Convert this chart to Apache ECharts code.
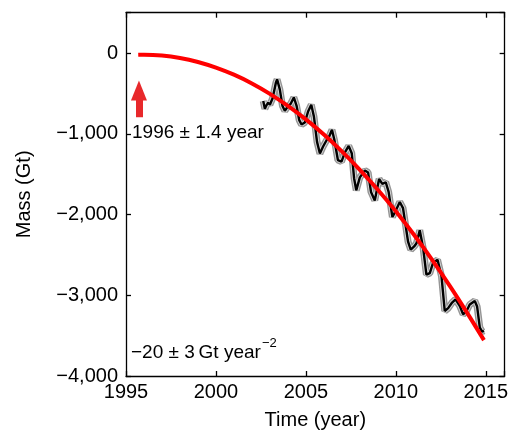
<!DOCTYPE html>
<html>
<head>
<meta charset="utf-8">
<script src="https://cdn.jsdelivr.net/npm/echarts@6/dist/echarts.min.js"></script>
<style>
html,body{margin:0;padding:0;background:#fff;}
#c{width:511px;height:435px;}
</style>
</head>
<body>
<div id="c"></div>
<script>
// ---- data ----
var xTicks = [1995, 2000, 2005, 2010, 2015];
var yTicks = [0, -1000, -2000, -3000, -4000];
var yTickLabels = ['0', '\u22121,000', '\u22122,000', '\u22123,000', '\u22124,000'];

// GRACE mass time series (year, Gt)
var massYears = [2002.63,2002.72,2002.80,2002.90,2003.00,2003.15,2003.33,2003.40,2003.55,2003.70,2003.83,2004.00,2004.15,2004.33,2004.48,2004.63,2004.76,2004.94,2005.13,2005.30,2005.45,2005.62,2005.78,2005.95,2006.15,2006.30,2006.45,2006.58,2006.78,2006.98,2007.17,2007.38,2007.55,2007.68,2007.80,2008.00,2008.28,2008.46,2008.62,2008.83,2009.07,2009.25,2009.44,2009.60,2009.81,2009.98,2010.22,2010.40,2010.68,2010.83,2011.02,2011.15,2011.33,2011.52,2011.70,2011.89,2012.07,2012.32,2012.54,2012.72,2012.91,2013.13,2013.32,2013.56,2013.74,2013.92,2014.11,2014.39,2014.52,2014.67,2014.80,2014.90];
var massValues = [-594,-690,-650,-615,-640,-560,-370,-325,-450,-655,-715,-660,-630,-550,-650,-830,-885,-860,-720,-640,-790,-1100,-1245,-1160,-1080,-1030,-950,-1070,-1325,-1345,-1230,-1150,-1240,-1550,-1700,-1540,-1455,-1480,-1720,-1825,-1560,-1620,-1600,-1720,-2030,-1960,-1845,-1920,-2335,-2435,-2395,-2355,-2195,-2415,-2745,-2725,-2600,-2560,-2765,-3195,-3160,-3090,-3050,-3135,-3235,-3200,-3115,-3070,-3140,-3400,-3450,-3440];

// Quadratic fit curve (year, Gt)
var fitYears = [1995.68,1996,1997,1998,1999,2000,2001,2002,2003,2004,2005,2006,2007,2008,2009,2010,2011,2012,2013,2014,2014.9];
var fitValues = [-21,-20,-30,-60,-110,-180,-268,-376,-505,-655,-822,-1010,-1218,-1446,-1693,-1960,-2248,-2555,-2883,-3230,-3556];

// arrow annotation (year, Gt): tail and head
var arrowYear = 1995.72;
var arrowFrom = -795;
var arrowTo = -463;

var annot1 = '1996 \u00b1 1.4 year';
var annot2 = '\u221220 \u00b1 3\u2009Gt year';
var annot2sup = '\u22122';

function pairs(xs, ys){ return xs.map(function(x,i){ return [x, ys[i]]; }); }

var FONT = "'Liberation Sans', Arial, Helvetica, sans-serif";
var chart = echarts.init(document.getElementById('c'));

var axisCommon = {
  axisLine: {show: true, onZero: false, lineStyle: {color: '#000', width: 1.3}},
  axisTick: {show: true, inside: true, length: 5, lineStyle: {color: '#000', width: 1.3}},
  splitLine: {show: false}
};

chart.setOption({
  animation: false,
  backgroundColor: '#fff',
  grid: {left: 126, right: 5.5, top: 12.7, bottom: 56, containLabel: false},
  xAxis: [
    Object.assign({
      type: 'value', min: 1995, max: 2016.05, interval: 5, position: 'bottom',
      name: 'Time (year)', nameLocation: 'middle', nameGap: 34,
      nameTextStyle: {fontFamily: FONT, fontSize: 20, color: '#000'},
      axisLabel: {fontFamily: FONT, fontSize: 20, color: '#000', margin: 6,
        formatter: function(v){ return xTicks.indexOf(v) >= 0 ? String(v) : ''; }}
    }, axisCommon),
    Object.assign({
      type: 'value', min: 1995, max: 2016.05, interval: 5, position: 'top',
      axisLabel: {show: false}
    }, axisCommon)
  ],
  yAxis: [
    Object.assign({
      type: 'value', min: -4000, max: 500, interval: 1000, position: 'left',
      name: 'Mass (Gt)', nameLocation: 'middle', nameGap: 92,
      nameTextStyle: {fontFamily: FONT, fontSize: 20, color: '#000'},
      axisLabel: {fontFamily: FONT, fontSize: 20, color: '#000', margin: 8,
        formatter: function(v){ var i = yTicks.indexOf(v); return i >= 0 ? yTickLabels[i] : ''; }}
    }, axisCommon),
    Object.assign({
      type: 'value', min: -4000, max: 500, interval: 1000, position: 'right',
      axisLabel: {show: false}
    }, axisCommon)
  ],
  series: [
    {type: 'line', data: pairs(massYears, massValues), showSymbol: false, silent: true,
     lineStyle: {color: '#959595', width: 7}, z: 2},
    {type: 'line', data: pairs(massYears, massValues), showSymbol: false, silent: true,
     lineStyle: {color: '#dadada', width: 4.2}, z: 3},
    {type: 'line', data: pairs(massYears, massValues), showSymbol: false, silent: true,
     lineStyle: {color: '#000', width: 2.4}, z: 4},
    {type: 'line', data: pairs(fitYears, fitValues), showSymbol: false, silent: true, smooth: 0.3,
     lineStyle: {color: '#ff0000', width: 4}, z: 5,
     markLine: {
       silent: true, symbol: ['none', 'triangle'], symbolSize: [16, 20],
       label: {show: false},
       lineStyle: {color: '#e8282b', width: 7, type: 'solid'},
       data: [[{coord: [arrowYear, arrowFrom]}, {coord: [arrowYear, arrowTo]}]]
     }}
  ],
  graphic: [
    {type: 'text', left: 132, top: 123, style: {text: annot1, font: '19px ' + FONT, fill: '#000'}},
    {type: 'text', left: 131, top: 343, style: {text: annot2, font: '19px ' + FONT, fill: '#000'}},
    {type: 'text', left: 262, top: 337, style: {text: annot2sup, font: '13px ' + FONT, fill: '#000'}}
  ]
});
</script>
</body>
</html>
